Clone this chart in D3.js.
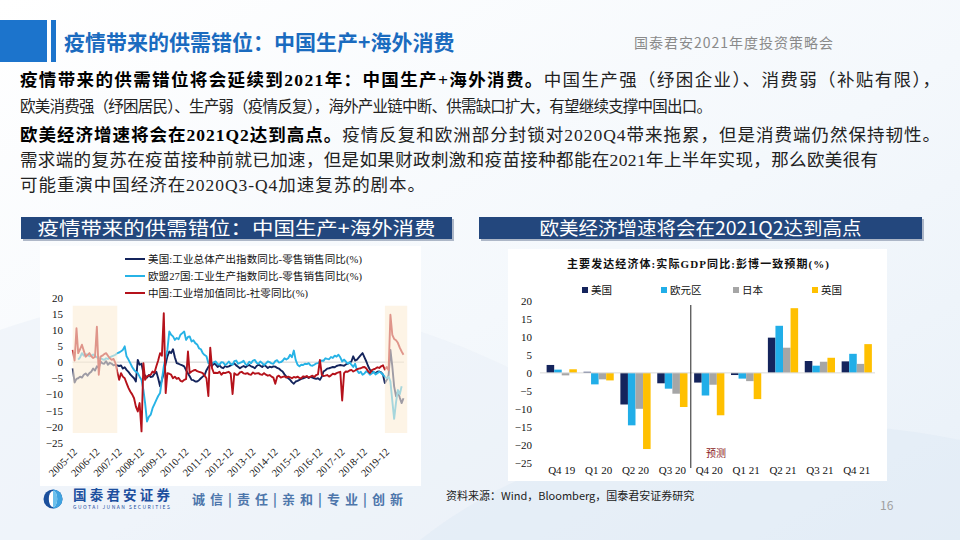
<!DOCTYPE html>
<html lang="zh-CN">
<head>
<meta charset="UTF-8">
<title>疫情带来的供需错位：中国生产+海外消费</title>
<script src="https://d3js.org/d3.v7.min.js"></script>
<style>
  html, body { margin: 0; padding: 0; background: #fff; }
  svg { display: block; }
  .serif { font-family: "Liberation Serif", "Noto Sans CJK SC", serif; }
  .sans { font-family: "Noto Sans CJK SC", "Noto Sans", sans-serif; }
</style>
</head>
<body>
<svg id="slide" width="960" height="540"></svg>
<script>
// ---- left chart: monthly gaps, first value is 2005-12 ----
const startMonth = "2005-12";
const xTickLabels = ["2005-12","2006-12","2007-12","2008-12","2009-12","2010-12","2011-12","2012-12",
  "2013-12","2014-12","2015-12","2016-12","2017-12","2018-12","2019-12"];
const gapTicks = [20, 15, 10, 5, 0, -5, -10, -15, -20, -25];
const shadePeriods = [["2005-12", "2007-12"], ["2019-12", "2020-12"]];

const usGap = [
  -1.9,
  -6.3, -5.2, -5.0, -4.5, -4.8, -3.9, -3.5, -4.2, -3.4, -3.0, -2.0, -2.6,
  -1.3, -1.8, 0.2, -0.4, -0.5, 0.3, -0.8, -0.2, -0.5, -1.0, -0.8, -1.0,
  -1.2, -1.0, -2.0, -1.6, -2.4, -3.0, -3.8, -4.4, -5.0, -6.0, 0.7, -0.8,
  -0.5, -3.4, -4.2, -4.8, -4.0, -4.6, -4.5, -3.6, -3.0, -5.0, -7.5, -5.5,
  -3.4, -0.5, 1.8, 3.3, 2.8, 4.0, 1.5, -0.3, -0.5, -0.8, -1.0, -1.3,
  -2.5, -3.5, -4.4, -5.5, -5.6, -6.0, -6.0, -5.6, -5.0, -4.5, -4.0, -2.5,
  -1.5, -0.8, -1.2, -0.3, -0.8, -1.5, -1.0, -1.6, -1.9, -1.2, -1.5, -1.3,
  -1.0, -0.6, -0.4, -1.0, -1.4, -1.9, -1.5, -1.2, -1.6, -1.1, -0.9, -1.3,
  -1.5, -1.9, -1.2, -0.8, -1.1, -1.5, -0.9, -1.3, -1.8, -1.4, -1.6, -1.3,
  -1.4, -1.8, -2.0, -2.5, -2.9, -3.8, -4.5, -5.0, -5.5, -6.2, -6.7, -6.0,
  -5.8, -5.5, -5.2, -5.0, -4.8, -4.5, -4.9, -4.6, -4.8, -5.0, -5.2, -5.0,
  -5.5, -4.5, -2.9, -2.5, -2.0, -1.9, -1.7, -1.5, -1.6, -1.2, -1.0, -0.9,
  -1.0, -1.1, -0.7, -0.5, -0.2, 0.2, 1.8, 0.5, 0.8, 1.5, 2.2, 2.8,
  1.5, 0.2, -1.2, -2.4, -2.9, -3.2, -3.4, -3.0, -2.9, -3.2, -3.9, -6.5,
  -5.5, -4.0, 3.8, -1.3, -7.5, -10.6, -9.1, -11.0, -12.7, -11.2
];
const euGap = [
  null,
  null, null, 0.8, 1.5, 2.8, 2.0, 2.5, 2.3, 1.8, 2.0, 2.4, 2.0,
  1.5, 1.0, 1.3, 0.9, 0.7, 1.2, 1.0, 1.5, 1.8, 2.0, 2.3, 2.8,
  3.0, 3.4, 3.8, 4.9, 1.8, 0.8, -0.3, -1.5, -2.4, -3.0, -3.4, -4.5,
  -5.5, -8.6, -12.7, -18.4, -17.0, -16.3, -14.3, -13.0, -11.7, -10.5, -9.6, -5.5,
  -1.3, 1.5, 3.8, 9.5, 8.5, 8.0, 6.9, 7.5, 7.1, 8.5, 9.0, 9.5,
  6.9, 7.8, 8.0, 6.4, 6.8, 5.9, 5.5, 4.3, 4.0, 2.8, 2.2, 1.8,
  -0.3, -0.8, -0.5, 0.0, 0.2, -0.6, -0.8, 0.0, -0.1, -0.9, -0.5, 0.2,
  -0.6, -0.8, 0.3, 0.5, -0.5, -0.2, 0.0, 0.4, -0.7, -0.8, 0.1, -0.3,
  0.5, 0.7, -0.2, -0.5, 0.2, -0.3, -0.9, -0.4, 0.2, 0.0, -0.4, -0.5,
  0.3, 0.6, -0.1, 0.0, 0.4, 1.2, 0.8, 1.2, 2.3, 1.5, 3.6, 0.7,
  -0.8, -1.3, -0.8, -0.9, -0.5, -0.6, -0.3, -1.0, -1.1, -0.8, -0.4, -0.3,
  0.2, 0.5, 0.4, 1.2, 1.0, 0.9, 1.6, 1.3, 2.0, 1.7, 2.3, 1.5,
  0.2, 0.8, 0.2, -0.5, 0.0, -0.8, -1.5, -0.5, -2.5, -3.4, -3.0, -3.9,
  -3.5, -2.8, -3.2, -3.9, -3.5, -3.0, -3.8, -3.4, -3.0, -3.3, -3.9, -4.5,
  -5.0, -4.5, -6.0, -12.0, -17.6, -12.5, -8.6, -10.0, -7.5
];
const cnGap = [
  3.8,
  0.5, 10.5, 2.8, 4.0, 5.4, 3.5, 1.7, 2.2, 2.8, 1.8, 1.3, 1.6,
  11.0, -3.9, 1.7, 2.0, 2.5, 2.8, 2.0, 1.2, 0.7, 1.0, -0.3, -3.0,
  -5.5, -3.4, -4.5, -5.0, -6.5, -8.0, -9.1, -10.0, -11.2, -13.8, -15.3, -12.7,
  -21.5, -0.3, -5.5, -4.4, -4.2, -3.9, -2.9, -3.3, -1.3, 0.5, 2.8, 2.0,
  15.2, -9.6, -3.4, -3.6, -3.9, -5.0, -4.5, -5.2, -4.9, -5.8, -6.0, -5.5,
  -5.3, 3.3, -3.4, -2.9, -2.6, -2.4, -2.8, -3.0, -3.2, -3.4, -4.2, -5.0,
  -10.5, 4.5, -1.9, -3.4, -3.3, -3.4, -3.0, -3.9, -3.3, -3.4, -3.2, -3.0,
  -3.6, -9.9, -3.4, -3.9, -3.9, -3.2, -3.0, -3.5, -3.6, -3.4, -3.8, -3.9,
  -3.2, -3.6, -3.5, -3.4, -3.8, -3.9, -3.4, -3.9, -4.2, -4.0, -4.5, -4.8,
  -6.7, -4.5, -4.2, -4.8, -4.6, -4.4, -4.8, -4.5, -4.7, -5.0, -4.6, -4.8,
  -4.5, -4.9, -5.0, -4.4, -4.6, -4.3, -4.8, -4.5, -4.2, -4.6, -4.0, -3.8,
  0.7, -3.9, -4.3, -4.2, -4.0, -4.5, -4.1, -3.6, -3.8, -3.4, -3.2, -3.0,
  -11.9, -3.4, -2.9, -3.0, -2.6, -2.4, -2.9, -2.6, -2.2, -2.0, -1.9, -1.6,
  -1.5, -2.0, -2.8, -3.4, -2.5, -2.2, -2.0, -1.6, -1.8, -1.3, -1.0, -2.3,
  -1.5, -2.5, 14.7, 8.5, 7.2, 6.8, 6.0, 4.5, 3.3, 2.3
];
const gapNames = ["美国:工业总体产出指数同比-零售销售同比(%)", "欧盟27国:工业生产指数同比-零售销售同比(%)", "中国:工业增加值同比-社零同比(%)"];

// ---- right chart: Bloomberg consensus real GDP yoy ----
const quarters = ["Q4 19", "Q1 20", "Q2 20", "Q3 20", "Q4 20", "Q1 21", "Q2 21", "Q3 21", "Q4 21"];
const gdpNames = ["美国", "欧元区", "日本", "英国"];
const gdpUS = [2.2, 0.3, -8.8, -2.9, -2.7, -0.6, 9.8, 3.3, 3.2];
const gdpEA = [0.9, -3.2, -14.6, -4.4, -6.3, -1.6, 13.1, 2.0, 5.3];
const gdpJP = [-0.7, -1.8, -10.0, -5.8, -3.3, -2.3, 7.0, 3.1, 2.5];
const gdpUK = [1.0, -2.1, -21.2, -9.5, -11.8, -7.3, 18.0, 4.2, 8.0];
const gdpTicks = [20, 15, 10, 5, 0, -5, -10, -15, -20, -25];

const svg = d3.select("#slide");
const defs = svg.append("defs");

// background
const bg = defs.append("linearGradient").attr("id", "bg")
  .attr("x1", "0").attr("y1", "0").attr("x2", "1").attr("y2", "1");
bg.append("stop").attr("offset", "0%").attr("stop-color", "#ffffff");
bg.append("stop").attr("offset", "55%").attr("stop-color", "#f4f8fc");
bg.append("stop").attr("offset", "100%").attr("stop-color", "#e8f0f8");
svg.append("rect").attr("width", 960).attr("height", 540).attr("fill", "url(#bg)");
svg.append("path").attr("d", "M0,330 C200,260 420,300 600,420 L600,540 L0,540 Z")
  .attr("fill", "#e9f0f8").attr("opacity", 0.5);
svg.append("path").attr("d", "M420,540 C560,430 760,400 960,440 L960,540 Z")
  .attr("fill", "#dde8f4").attr("opacity", 0.45);

// header
svg.append("rect").attr("x", 0).attr("y", 20).attr("width", 47).attr("height", 42).attr("fill", "#1c74cc");
svg.append("rect").attr("x", 51).attr("y", 20).attr("width", 5).attr("height", 42).attr("fill", "#1c74cc");
svg.append("text").attr("class", "sans").attr("x", 64).attr("y", 50)
  .attr("font-size", 21).attr("font-weight", 700).attr("fill", "#1a6bbf")
  .text("疫情带来的供需错位：中国生产+海外消费");
svg.append("text").attr("class", "sans").attr("x", 634).attr("y", 48)
  .attr("font-size", 14).attr("fill", "#8a8a8a").attr("textLength", 199)
  .text("国泰君安2021年度投资策略会");

// body paragraphs
const bodyLines = [
  { y: 86, len: 920, size: 17.5, parts: [["疫情带来的供需错位将会延续到2021年：中国生产+海外消费。", true], ["中国生产强（纾困企业）、消费弱（补贴有限），", false]] },
  { y: 112, len: 692, size: 15.5, parts: [["欧美消费强（纾困居民）、生产弱（疫情反复），海外产业链中断、供需缺口扩大，有望继续支撑中国出口。", false]] },
  { y: 141, len: 920, size: 17.5, parts: [["欧美经济增速将会在2021Q2达到高点。", true], ["疫情反复和欧洲部分封锁对2020Q4带来拖累，但是消费端仍然保持韧性。", false]] },
  { y: 166, len: 858, size: 17.5, parts: [["需求端的复苏在疫苗接种前就已加速，但是如果财政刺激和疫苗接种都能在2021年上半年实现，那么欧美很有", false]] },
  { y: 191, len: 405, size: 17.5, parts: [["可能重演中国经济在2020Q3-Q4加速复苏的剧本。", false]] }
];
bodyLines.forEach(l => {
  const t = svg.append("text").attr("class", "serif").attr("x", 20).attr("y", l.y)
    .attr("font-size", l.size).attr("fill", "#1a1a1a")
    .attr("textLength", l.len).attr("lengthAdjust", "spacing");
  l.parts.forEach(p => t.append("tspan").attr("font-weight", p[1] ? 700 : 400).attr("fill", p[1] ? "#000" : "#222").text(p[0]));
});

// section banners
function banner(x, w, label, tl) {
  svg.append("rect").attr("x", x + 2).attr("y", 219).attr("width", w).attr("height", 22).attr("fill", "#8e9bb0").attr("opacity", 0.7);
  svg.append("rect").attr("x", x).attr("y", 217).attr("width", w).attr("height", 22).attr("fill", "#23477d");
  svg.append("text").attr("class", "sans").attr("x", x + w / 2).attr("y", 234.5)
    .attr("text-anchor", "middle").attr("font-size", 18.5).attr("fill", "#fff")
    .attr("textLength", tl).attr("lengthAdjust", "spacingAndGlyphs").text(label);
}
banner(21, 431, "疫情带来的供需错位：中国生产+海外消费", 398);
banner(479, 443, "欧美经济增速将会在2021Q2达到高点", 322);

// chart panels
svg.append("rect").attr("x", 40).attr("y", 246).attr("width", 381).attr("height", 240).attr("fill", "#fff");
svg.append("rect").attr("x", 508).attr("y", 249).attr("width", 379).attr("height", 232).attr("fill", "#fff");

// ---------------- left chart ----------------
const parseMonth = d3.timeParse("%Y-%m");
const month0 = parseMonth(startMonth);
const x = d3.scaleTime().domain([parseMonth("2005-12"), parseMonth("2020-12")]).range([72.7, 407.2]);
const y = d3.scaleLinear().domain([-25, 20]).range([442.7, 297.7]);

const left = svg.append("g");
left.append("line").attr("x1", x.range()[0]).attr("x2", 404).attr("y1", y(0)).attr("y2", y(0))
  .attr("stroke", "#d0d0d0").attr("stroke-width", 1);

const seriesLeft = [
  { name: gapNames[0], values: usGap, color: "#14245c", lw: 214 },
  { name: gapNames[1], values: euGap, color: "#27b3e6", lw: 214 },
  { name: gapNames[2], values: cnGap, color: "#b5121b", lw: 160 }
];
const line = d3.line()
  .defined(d => d.v != null)
  .x(d => x(d.date))
  .y(d => y(d.v));
seriesLeft.forEach(s => {
  const pts = s.values.map((v, i) => ({ date: d3.timeMonth.offset(month0, i), v }));
  left.append("path").datum(pts).attr("d", line)
    .attr("fill", "none").attr("stroke", s.color).attr("stroke-width", 1.9).attr("stroke-linejoin", "round");
});

// shaded periods on top, lines show faded through them
shadePeriods.forEach(p => {
  left.append("rect")
    .attr("x", x(parseMonth(p[0]))).attr("width", x(parseMonth(p[1])) - x(parseMonth(p[0])))
    .attr("y", y(17.5)).attr("height", y(-22) - y(17.5))
    .attr("fill", "#fcecd6").attr("opacity", 0.6);
});

const yAxisL = left.append("g").attr("class", "serif").attr("transform", "translate(66,0)")
  .call(d3.axisLeft(y).tickValues(gapTicks).tickSize(0).tickPadding(3));
yAxisL.select(".domain").remove();
yAxisL.selectAll("text").attr("font-size", 11).attr("fill", "#111")
  .attr("font-family", "Liberation Serif");

const xAxisL = left.append("g").attr("transform", "translate(0,447)")
  .call(d3.axisBottom(x).tickValues(xTickLabels.map(parseMonth)).tickFormat(d3.timeFormat("%Y-%m")).tickSize(0).tickPadding(0));
xAxisL.select(".domain").remove();
xAxisL.selectAll("text").attr("font-size", 10.5).attr("fill", "#111").attr("font-family", "Liberation Serif")
  .attr("text-anchor", "end").attr("dy", "0.35em").attr("dx", "0")
  .attr("transform", "translate(2,3) rotate(-45)");

// legend
seriesLeft.forEach((s, i) => {
  const ly = [259, 276, 293][i];
  left.append("line").attr("x1", 125).attr("x2", 145).attr("y1", ly).attr("y2", ly)
    .attr("stroke", s.color).attr("stroke-width", 2);
  left.append("text").attr("class", "serif").attr("x", 148).attr("y", ly + 3.5)
    .attr("font-size", 10.5).attr("fill", "#111").attr("textLength", s.lw).text(s.name);
});

// ---------------- right chart ----------------
const xb = d3.scaleBand().domain(quarters).range([543.3, 875.2]).paddingInner(0.18).paddingOuter(0.09);
const xs = d3.scaleBand().domain(gdpNames).range([0, xb.bandwidth()]);
const y2 = d3.scaleLinear().domain([-25, 20]).range([462.7, 301]);
const gdpColors = ["#14245c", "#21aee8", "#a6a6a6", "#ffc000"];
const gdpSeries = [gdpUS, gdpEA, gdpJP, gdpUK];

const right = svg.append("g");
right.append("text").attr("class", "serif").attr("x", 698).attr("y", 268)
  .attr("text-anchor", "middle").attr("font-size", 11).attr("font-weight", 700).attr("fill", "#111")
  .attr("textLength", 262)
  .text("主要发达经济体:实际GDP同比:彭博一致预期(%)");

[585, 664, 736, 815].forEach((lx, i) => {
  right.append("rect").attr("x", lx - 3).attr("y", 287).attr("width", 6).attr("height", 6).attr("fill", gdpColors[i]);
  right.append("text").attr("class", "serif").attr("x", lx + 6).attr("y", 294)
    .attr("font-size", 10.5).attr("fill", "#111").text(gdpNames[i]);
});

const yAxisR = right.append("g").attr("transform", "translate(535,0)")
  .call(d3.axisLeft(y2).tickValues(gdpTicks).tickSize(0).tickPadding(3));
yAxisR.select(".domain").remove();
yAxisR.selectAll("text").attr("font-size", 11).attr("fill", "#111").attr("font-family", "Liberation Serif");

gdpSeries.forEach((vals, si) => {
  right.append("g").selectAll("rect").data(quarters).join("rect")
    .attr("x", q => xb(q) + xs(gdpNames[si]))
    .attr("width", xs.bandwidth())
    .attr("y", (q, i) => y2(Math.max(0, vals[i])))
    .attr("height", (q, i) => Math.abs(y2(vals[i]) - y2(0)))
    .attr("fill", gdpColors[si]);
});

right.append("line").attr("x1", 540).attr("x2", 875).attr("y1", y2(0)).attr("y2", y2(0))
  .attr("stroke", "#d9d9d9").attr("stroke-width", 1);

const splitX = xb("Q4 20") - xb.step() * xb.paddingInner() / 2;
right.append("line").attr("x1", splitX).attr("x2", splitX).attr("y1", 305).attr("y2", 468)
  .attr("stroke", "#222").attr("stroke-width", 1);
right.append("text").attr("class", "serif").attr("x", 716).attr("y", 457)
  .attr("text-anchor", "middle").attr("font-size", 10).attr("fill", "#8b1a1a").text("预测");

const xAxisR = right.append("g").attr("transform", "translate(0,462.7)")
  .call(d3.axisBottom(xb).tickSize(0).tickPadding(4));
xAxisR.select(".domain").remove();
xAxisR.selectAll("text").attr("font-size", 11).attr("fill", "#111").attr("font-family", "Liberation Serif");

// ---------------- footer ----------------
const logo = svg.append("g").attr("transform", "translate(53,499)");
logo.append("circle").attr("r", 9.5).attr("fill", "#1b4f9c");
logo.append("path").attr("d", "M0,-9.5 A9.5,9.5 0 0,1 0,9.5 Z").attr("fill", "#3fa3e0");
logo.append("ellipse").attr("rx", 4.2).attr("ry", 8).attr("fill", "#fff");
logo.append("path").attr("d", "M0,-8 A4.2,8 0 0,1 0,8 Z").attr("fill", "#6cc0ec");
svg.append("text").attr("class", "sans").attr("x", 73).attr("y", 500)
  .attr("font-size", 13.5).attr("font-weight", 700).attr("fill", "#1d4f9e").attr("textLength", 97)
  .text("国泰君安证券");
svg.append("text").attr("class", "sans").attr("x", 73).attr("y", 509)
  .attr("font-size", 5).attr("fill", "#1d4f9e").attr("textLength", 97)
  .text("GUOTAI JUNAN SECURITIES");
svg.append("text").attr("class", "sans").attr("x", 192).attr("y", 504)
  .attr("font-size", 13).attr("font-weight", 700).attr("fill", "#4d76ab").attr("textLength", 211)
  .attr("xml:space", "preserve")
  .text("诚 信 | 责 任 | 亲 和 | 专 业 | 创 新");
svg.append("text").attr("class", "sans").attr("x", 446).attr("y", 500)
  .attr("font-size", 11).attr("fill", "#222")
  .text("资料来源：Wind，Bloomberg，国泰君安证券研究");
svg.append("text").attr("class", "sans").attr("x", 880).attr("y", 510)
  .attr("font-size", 12).attr("fill", "#a0a0a0").text("16");
</script>
</body>
</html>
